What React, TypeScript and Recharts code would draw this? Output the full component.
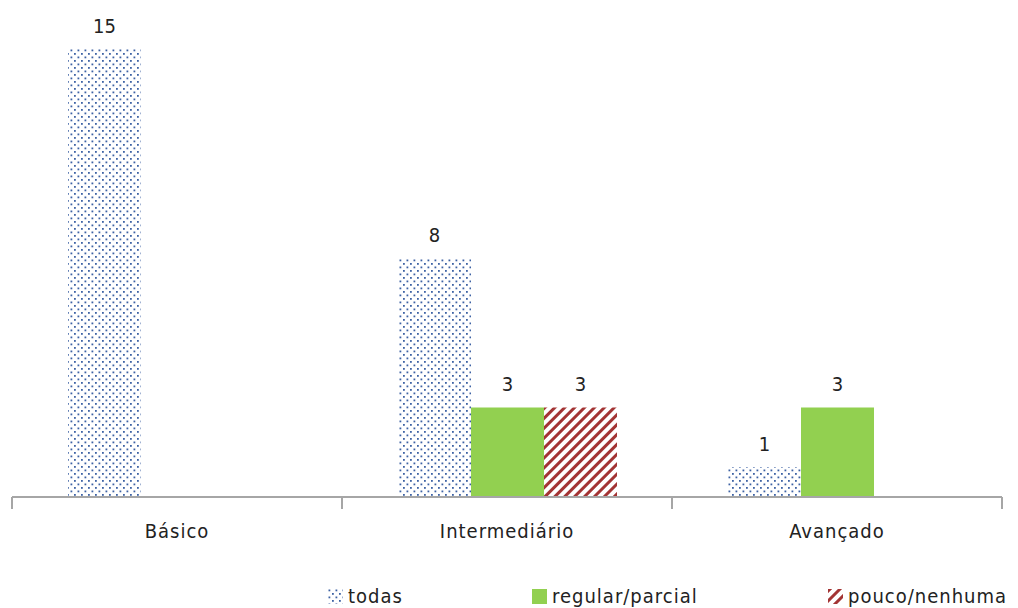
import { BarChart, Bar, XAxis, YAxis, LabelList, Legend } from 'recharts';

const categories = ['Básico', 'Intermediário', 'Avançado'];
const todas = [15, 8, 1];
const regularParcial = [null, 3, 3];
const poucoNenhuma = [null, 3, null];

const data = categories.map((name, i) => ({
  name,
  todas: todas[i],
  regular: regularParcial[i],
  pouco: poucoNenhuma[i],
}));

const W = 1018;
const H = 608;
const margin = { top: 19, right: 16, left: 12, bottom: 0 };
const plotW = W - margin.left - margin.right;
const band = plotW / categories.length;

const FONT = "'DejaVu Sans Condensed', 'DejaVu Sans', sans-serif";
const AXIS = '#a6a6a6';
const GREEN = '#92d050';
const RED = '#a33434';
const BLUE = '#3d62a4';

function CategoryTick(props: any) {
  const { x, y, payload, index } = props;
  const left = x - band / 2;
  const right = x + band / 2;
  return (
    <g>
      <line x1={left} y1={y} x2={left} y2={y + 12} stroke={AXIS} strokeWidth={2} />
      {index === categories.length - 1 && (
        <line x1={right} y1={y} x2={right} y2={y + 12} stroke={AXIS} strokeWidth={2} />
      )}
      <text x={x} y={y + 41} textAnchor="middle" fontFamily={FONT} fontSize={20} letterSpacing={1} fill="#222">
        {payload.value}
      </text>
    </g>
  );
}

// legend wrapper already sits at margin.left, so these are relative to it
const legendItems = [
  { key: 'todas', label: 'todas', fill: 'url(#dots)', left: 316 },
  { key: 'regular', label: 'regular/parcial', fill: GREEN, left: 520 },
  { key: 'pouco', label: 'pouco/nenhuma', fill: 'url(#hatch)', left: 816 },
];

function LegendContent() {
  return (
    <div style={{ position: 'relative', height: 24 }}>
      {legendItems.map((it) => (
        <div
          key={it.key}
          style={{ position: 'absolute', left: it.left, top: 0, height: 24, display: 'flex', alignItems: 'center', whiteSpace: 'nowrap' }}
        >
          <svg width={15} height={15} style={{ marginRight: 5 }}>
            <rect x={0} y={0} width={15} height={15} fill={it.fill} />
          </svg>
          <span style={{ fontFamily: FONT, fontSize: 20, letterSpacing: 1, color: '#222' }}>{it.label}</span>
        </div>
      ))}
    </div>
  );
}

export default function App() {
  return (
    <div style={{ position: 'absolute', left: 0, top: 0, width: W, height: H, background: '#fff', overflow: 'hidden' }}>
      <svg width={0} height={0} style={{ position: 'absolute' }}>
        <defs>
          <pattern id="dots" width={7} height={7} patternUnits="userSpaceOnUse">
            <rect x={0.5} y={0.5} width={1.8} height={1.8} fill={BLUE} />
            <rect x={4} y={4} width={1.8} height={1.8} fill={BLUE} />
          </pattern>
          <pattern id="hatch" width={7} height={7} patternUnits="userSpaceOnUse" patternTransform="rotate(45)">
            <rect x={0} y={0} width={3} height={7} fill={RED} />
          </pattern>
        </defs>
      </svg>
      <BarChart width={W} height={H} data={data} margin={margin} barGap={0} barSize={73}>
        <defs>
          <pattern id="dots2" width={7} height={7} patternUnits="userSpaceOnUse">
            <rect x={0.5} y={0.5} width={1.8} height={1.8} fill={BLUE} />
            <rect x={4} y={4} width={1.8} height={1.8} fill={BLUE} />
          </pattern>
          <pattern id="hatch2" width={7} height={7} patternUnits="userSpaceOnUse" patternTransform="rotate(45)">
            <rect x={0} y={0} width={3} height={7} fill={RED} />
          </pattern>
        </defs>
        <XAxis
          dataKey="name"
          height={87}
          axisLine={{ stroke: AXIS, strokeWidth: 2 }}
          tickLine={false}
          tickSize={0}
          tickMargin={0}
          tick={<CategoryTick />}
          interval={0}
        />
        <YAxis hide domain={[0, 16]} />
        <Legend content={<LegendContent />} verticalAlign="bottom" wrapperStyle={{ height: 24 }} />
        <Bar dataKey="todas" name="todas" fill="url(#dots2)" isAnimationActive={false}>
          <LabelList dataKey="todas" position="top" offset={16} fill="#222" fontFamily={FONT} fontSize={20} />
        </Bar>
        <Bar dataKey="regular" name="regular/parcial" fill={GREEN} isAnimationActive={false}>
          <LabelList dataKey="regular" position="top" offset={16} fill="#222" fontFamily={FONT} fontSize={20} />
        </Bar>
        <Bar dataKey="pouco" name="pouco/nenhuma" fill="url(#hatch2)" isAnimationActive={false}>
          <LabelList dataKey="pouco" position="top" offset={16} fill="#222" fontFamily={FONT} fontSize={20} />
        </Bar>
      </BarChart>
    </div>
  );
}
